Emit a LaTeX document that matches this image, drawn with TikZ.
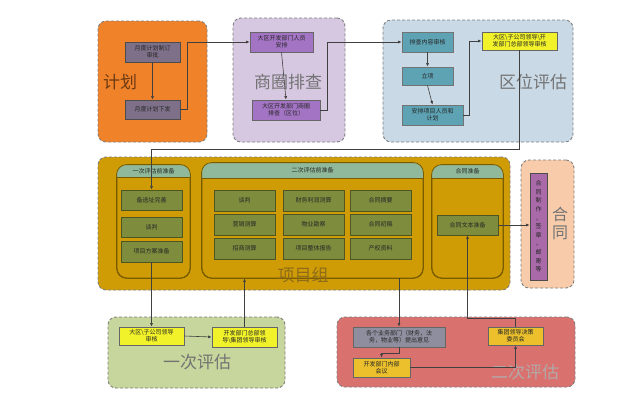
\documentclass[tikz,border=0pt]{standalone}
\usepackage{fontspec}
\setmainfont{Noto Sans CJK SC}
\usetikzlibrary{arrows.meta,calc}
\definecolor{cOrange}{HTML}{F0822A}
\definecolor{cJbox}{HTML}{7D7088}
\definecolor{cLPurple}{HTML}{D7C8E2}
\definecolor{cPbox}{HTML}{A474C4}
\definecolor{cLBlue}{HTML}{C9D9E6}
\definecolor{cTeal}{HTML}{5EA3B4}
\definecolor{cYellow}{HTML}{F2F22A}
\definecolor{cGold}{HTML}{CF9C05}
\definecolor{cGoldLine}{HTML}{7A5C00}
\definecolor{cSage}{HTML}{8FB99A}
\definecolor{cOlive}{HTML}{7E8C3E}
\definecolor{cOliveLine}{HTML}{4E5522}
\definecolor{cPeach}{HTML}{F8CCAA}
\definecolor{cVio}{HTML}{AA6AAA}
\definecolor{cLGreen}{HTML}{C6D69C}
\definecolor{cRed}{HTML}{D9726E}
\definecolor{cSlate}{HTML}{8E8E9E}
\definecolor{cAmber}{HTML}{EBC02C}
\definecolor{cGrpLine}{HTML}{7F7F7F}
\definecolor{cXmText}{HTML}{8E6C1A}
\definecolor{cEcText}{HTML}{B4A8A8}
\tikzset{
  grp/.style={draw=cGrpLine, line width=0.9pt, dash pattern=on 3pt off 2pt,
    rounded corners=8pt, inner sep=0pt},
  bx/.style={draw=#1, line width=0.8pt, inner sep=0pt, align=center,
    font=\fontsize{6}{7}\selectfont, text=black!85},
  panelbox/.style={draw=cGoldLine, line width=0.8pt, fill=cGold, rounded corners=10pt, inner sep=0pt},
  conn/.style={draw=black!75, line width=0.6pt},
  arr/.style={conn, -{Latex[length=3.5pt,width=3pt]}},
  big/.style={font=\fontsize{17}{17}\selectfont, inner sep=0pt},
  hdr/.style={font=\fontsize{6}{7}\selectfont, text=black!85, inner sep=0pt}
}
\begin{document}
\begin{tikzpicture}[x=1pt,y=-1pt]
\useasboundingbox (0,0) rectangle (640,410);
\fill[white] (0,0) rectangle (640,410);
% ---------- groups ----------
\node[grp, fill=cOrange, minimum width=109pt, minimum height=121pt] (gjh) at (152.5,81.5) {};
\node[grp, fill=cLPurple, minimum width=112pt, minimum height=124pt] (gsq) at (289,80) {};
\node[grp, fill=cLBlue, minimum width=190pt, minimum height=122pt] (gqw) at (478,81) {};
\node[grp, fill=cGold, minimum width=412pt, minimum height=133pt] (gxm) at (304,223.5) {};
\node[grp, fill=cPeach, minimum width=53pt, minimum height=128pt] (ght) at (547.5,224) {};
\node[grp, fill=cLGreen, minimum width=177pt, minimum height=71pt] (gyc) at (196.5,352.5) {};
\node[grp, fill=cRed, minimum width=238pt, minimum height=70pt] (gec) at (456,352) {};
% ---------- big labels ----------
\node[big, text=black!55!cOrange] (ljh) at (120,82) {计划};
\node[big, text=black!55] (lsq) at (288,82) {商圈排查};
\node[big, text=black!55] (lqw) at (533,82) {区位评估};
\node[big, text=black!55, align=center, font=\fontsize{16}{18}\selectfont] (lht) at (560,223) {合\\同};
\node[big, text=black!55] (lyc) at (197,362) {一次评估};
\node[big, text=cEcText] (lec) at (525,372) {二次评估};
% ---------- panels ----------
\node[panelbox, minimum width=73pt, minimum height=113pt] (pan1) at (153.5,221.5) {};
\node[panelbox, minimum width=221pt, minimum height=115pt] (pan2) at (312.5,220.5) {};
\node[panelbox, minimum width=71pt, minimum height=113pt] (pan3) at (467.5,221.5) {};
\foreach \p/\h in {pan1/13, pan2/16, pan3/14}{
  \begin{scope}
    \clip[rounded corners=10pt] (\p.north west) rectangle (\p.south east);
    \fill[cSage] (\p.north west) rectangle ($(\p.north east)+(0,\h)$);
  \end{scope}
  \draw[cGoldLine, line width=0.8pt] ($(\p.north west)+(0,\h)$) -- ($(\p.north east)+(0,\h)$);
  \draw[cGoldLine, line width=0.8pt, rounded corners=10pt] (\p.north west) rectangle (\p.south east);
}
\node[hdr] (h1) at ($(pan1.north)+(0,6.5)$) {一次评估前准备};
\node[hdr] (h2) at ($(pan2.north)+(0,8)$) {二次评估前准备};
\node[hdr] (h3) at ($(pan3.north)+(0,7)$) {合同准备};
% ---------- boxes: 计划 ----------
\node[bx=black!70, fill=cJbox, minimum width=55pt, minimum height=20pt] (j1) at (152.5,52) {月度计划制订\\审批};
\node[bx=black!70, fill=cJbox, minimum width=55pt, minimum height=19pt] (j2) at (152.5,109.5) {月度计划下发};
% 商圈排查
\node[bx=black!60, fill=cPbox, minimum width=63pt, minimum height=20pt] (p1) at (281.5,42) {大区开发部门人员\\安排};
\node[bx=black!60, fill=cPbox, minimum width=68pt, minimum height=20pt] (p2) at (286,110) {大区开发部门商圈\\排查（区位）};
% 区位评估
\node[bx=black!55, fill=cTeal, minimum width=51pt, minimum height=20pt] (q1) at (427.5,42) {排查内容审核};
\node[bx=black!55, fill=cTeal, minimum width=51pt, minimum height=18pt] (q2) at (427.5,76) {立项};
\node[bx=black!55, fill=cTeal, minimum width=61pt, minimum height=20pt] (q3) at (432.5,115) {安排项目人员和\\计划};
\node[bx=black!60, fill=cYellow, minimum width=75pt, minimum height=18pt] (q4) at (519.5,41) {大区\textbackslash 子公司领导\textbackslash 开\\发部门总部领导审核};
% 项目组 panel 1
\node[bx=cOliveLine, fill=cOlive, minimum width=61pt, minimum height=20pt] (a1) at (151.5,200) {备选址完善};
\node[bx=cOliveLine, fill=cOlive, minimum width=61pt, minimum height=20pt] (a2) at (151.5,227) {谈判};
\node[bx=cOliveLine, fill=cOlive, minimum width=61pt, minimum height=21pt] (a3) at (151.5,251.5) {项目方案准备};
% panel 2 grid
\node[bx=cOliveLine, fill=cOlive, minimum width=61pt, minimum height=21pt] (b11) at (244.5,200.5) {谈判};
\node[bx=cOliveLine, fill=cOlive, minimum width=61pt, minimum height=21pt] (b12) at (313.5,200.5) {财务利润测算};
\node[bx=cOliveLine, fill=cOlive, minimum width=61pt, minimum height=21pt] (b13) at (380.5,200.5) {合同摘要};
\node[bx=cOliveLine, fill=cOlive, minimum width=61pt, minimum height=21pt] (b21) at (244.5,224.5) {营销测算};
\node[bx=cOliveLine, fill=cOlive, minimum width=61pt, minimum height=21pt] (b22) at (313.5,224.5) {物业勘察};
\node[bx=cOliveLine, fill=cOlive, minimum width=61pt, minimum height=21pt] (b23) at (380.5,224.5) {合同初稿};
\node[bx=cOliveLine, fill=cOlive, minimum width=61pt, minimum height=21pt] (b31) at (244.5,248.5) {招商测算};
\node[bx=cOliveLine, fill=cOlive, minimum width=61pt, minimum height=21pt] (b32) at (313.5,248.5) {项目整体报告};
\node[bx=cOliveLine, fill=cOlive, minimum width=61pt, minimum height=21pt] (b33) at (380.5,248.5) {产权资料};
% panel 3
\node[bx=cOliveLine, fill=cOlive, minimum width=61pt, minimum height=20pt] (c1) at (467.5,225) {合同文本准备};
% 合同
\node[bx=black!70, fill=cVio, minimum width=17pt, minimum height=107pt, font=\fontsize{6}{8.6}\selectfont] (k1) at (538.5,226.5) {合\\同\\制\\作\\，\\签\\章\\，\\邮\\寄\\等};
% 一次评估
\node[bx=black!60, fill=cYellow, minimum width=65pt, minimum height=18pt] (e1) at (151.5,336) {大区\textbackslash 子公司领导\\审核};
\node[bx=black!60, fill=cYellow, minimum width=65pt, minimum height=20pt] (e2) at (244.5,337) {开发部门总部领\\导\textbackslash 集团领导审核};
% 二次评估
\node[bx=black!60, fill=cSlate, minimum width=92pt, minimum height=20pt] (s1) at (399,337) {各个业务部门（财务，法\\务，物业等）提出意见};
\node[bx=black!60, fill=cAmber, minimum width=55pt, minimum height=18pt] (s2) at (515.5,336) {集团领导决策\\委员会};
\node[bx=black!60, fill=cAmber, minimum width=57pt, minimum height=19pt] (s3) at (381.5,367.5) {开发部门内部\\会议};
% 项目组 label
\node[big, text=cXmText] (lxm) at (303,275) {项目组};
% ---------- connectors ----------
\draw[arr] (j1.south) -- (j2.north);
\draw[arr] (j2.east) -- ++(7,0) |- (p1.west);
\draw[arr] (p1.south) -- (p2.north);
\draw[arr] (p2.east) -- ++(7,0) |- (q1.west);
\draw[arr] (q1.south) -- (q2.north);
\draw[arr] (q2.south) -- (q3.north);
\draw[arr] (q3.east) -- ++(6,0) |- (q4.west);
\draw[arr] (q4.south) -- ++(0,99) -| (a1.north);
\draw[arr] (a3.south) -- (a3.south |- e1.north);
\draw[arr] (e1.east) -- (e2.west);
\draw[arr] (e2.north) -- (e2.north |- pan2.south);
\draw[arr] (s1.north |- pan2.south) -- (s1.north);
\draw[arr] (s1.south) -- ++(0,6) -| (s3.north);
\draw[arr] (s3.east) -| (s2.south);
\draw[arr] (s2.north) -- ++(0,-8) -| (c1.south);
\draw[arr] (c1.east) -- (c1.east -| k1.west);
\end{tikzpicture}
\end{document}
